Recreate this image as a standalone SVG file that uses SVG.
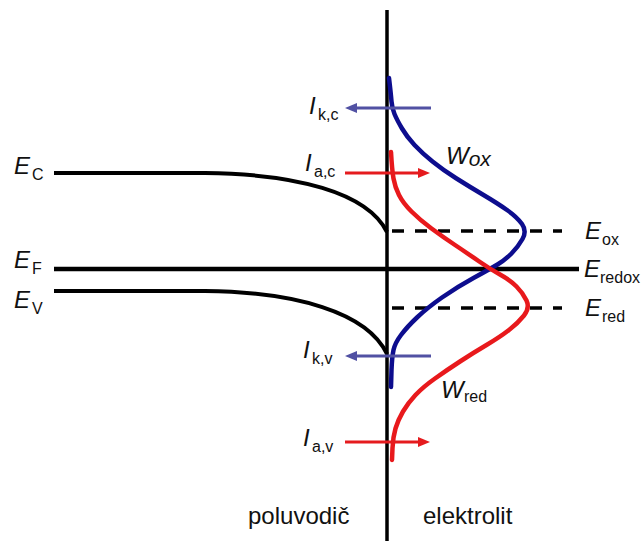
<svg xmlns="http://www.w3.org/2000/svg" width="643" height="541" viewBox="0 0 643 541">
  <style>
    .blk { stroke: #000; fill: none; }
    .dash { stroke: #000; stroke-width: 3.5; stroke-dasharray: 12 11; fill: none; }
    .t { font-family: "Liberation Sans", Arial, sans-serif; fill: #111; }
    .it { font-style: italic; font-size: 24px; }
    .sub { font-size: 16px; }
    .lbl { font-size: 24px; }
  </style>
  <defs>
    <marker id="headBlue" markerUnits="userSpaceOnUse" markerWidth="12" markerHeight="10" refX="2" refY="5" orient="auto">
      <path d="M0,0 L12,5 L0,10 z" fill="#5151a3"/>
    </marker>
    <marker id="headRed" markerUnits="userSpaceOnUse" markerWidth="12" markerHeight="10" refX="2" refY="5" orient="auto">
      <path d="M0,0 L12,5 L0,10 z" fill="#e51b1e"/>
    </marker>
  </defs>
  <rect width="643" height="541" fill="#fff"/>

  <g id="bands">
    <line class="blk" x1="387" y1="10" x2="387" y2="541" stroke-width="3.5"/>
    <path id="EC" class="blk" stroke-width="4" d="M54,173 L205,173 C295,174 367,192 387,232"/>
    <path id="EV" class="blk" stroke-width="4" d="M54,291 L205,291 C295,292 367,312 387,354"/>
    <line id="EF" class="blk" x1="54" y1="269" x2="579" y2="269" stroke-width="4.5"/>
    <line id="Eox" class="dash" x1="392" y1="231" x2="562" y2="231"/>
    <line id="Ered" class="dash" x1="392" y1="308" x2="562" y2="308"/>
  </g>

  <g id="curves" fill="none" stroke-width="4.5" stroke-linecap="round">
    <path id="Wox" stroke="#0d0d8e" d="M389,78 Q391,95 391.5,101.5 Q392,108 394.5,114 Q397,120 402,128.5 Q407,137 414.5,145 Q422,153 432.5,161.5 Q443,170 456.5,178.5 Q470,187 483.5,195 Q497,203 507,210 Q517,217 522,224 Q527,231 522.5,239 Q518,247 511.5,253.5 Q505,260 497.5,264.5 Q490,269 473.5,278 Q457,287 442,297.5 Q427,308 417,317.5 Q407,327 401,335 Q395,343 393.5,350 Q392,357 391.5,370 L391,387"/>
    <path id="Wred" stroke="#e8191c" d="M391,152 Q392,170 393.5,178.5 Q395,187 399,195 Q403,203 411.5,211.5 Q420,220 431.5,228.5 Q443,237 455,245 Q467,253 478.5,261 Q490,269 500,274.5 Q510,280 516.5,286.5 Q523,293 526.5,300.5 Q530,308 524,315.5 Q518,323 509,330 Q500,337 486.5,345 Q473,353 460,361.5 Q447,370 435,378.5 Q423,387 415.5,395 Q408,403 403,411.5 Q398,420 395.5,428.5 Q393,437 392.5,448 L392,460"/>
  </g>

  <g id="connectors" stroke-width="3" fill="none">
    <line id="Ikc" x1="431" y1="108" x2="355" y2="108" stroke="#5151a3" marker-end="url(#headBlue)"/>
    <line id="Iac" x1="345" y1="173" x2="420" y2="173" stroke="#e51b1e" marker-end="url(#headRed)"/>
    <line id="Ikv" x1="431" y1="356" x2="355" y2="356" stroke="#5151a3" marker-end="url(#headBlue)"/>
    <line id="Iav" x1="345" y1="442" x2="420" y2="442" stroke="#e51b1e" marker-end="url(#headRed)"/>
  </g>

  <g id="labels" class="t">
    <g id="lbl-EC"><text x="14" y="174" class="it">E</text><text x="32" y="180" class="sub">C</text></g>
    <g id="lbl-EF"><text x="14" y="268" class="it">E</text><text x="32" y="274" class="sub">F</text></g>
    <g id="lbl-EV"><text x="14" y="308" class="it">E</text><text x="32" y="314" class="sub">V</text></g>
    <g id="lbl-Ikc"><text x="309" y="114" class="it">I</text><text x="318" y="120" class="sub">k,c</text></g>
    <g id="lbl-Iac"><text x="305" y="171" class="it">I</text><text x="314" y="177" class="sub">a,c</text></g>
    <g id="lbl-Ikv"><text x="303" y="358" class="it">I</text><text x="312" y="364" class="sub">k,v</text></g>
    <g id="lbl-Iav"><text x="303" y="446" class="it">I</text><text x="312" y="452" class="sub">a,v</text></g>
    <g id="lbl-Wox"><text x="446" y="164" class="it">W<tspan font-size="21" dy="2">ox</tspan></text></g>
    <g id="lbl-Wred"><text x="441" y="398" class="it">W</text><text x="464" y="402" class="sub">red</text></g>
    <g id="lbl-Eox"><text x="585" y="239" class="it">E</text><text x="602" y="245" class="sub">ox</text></g>
    <g id="lbl-Eredox"><text x="584" y="277" class="it">E</text><text x="600" y="283" class="sub">redox</text></g>
    <g id="lbl-Ered"><text x="585" y="316" class="it">E</text><text x="602" y="322" class="sub">red</text></g>
    <text id="lbl-polovodic" x="248" y="524" class="lbl">poluvodič</text>
    <text id="lbl-elektrolit" x="423" y="524" class="lbl">elektrolit</text>
  </g>
</svg>
